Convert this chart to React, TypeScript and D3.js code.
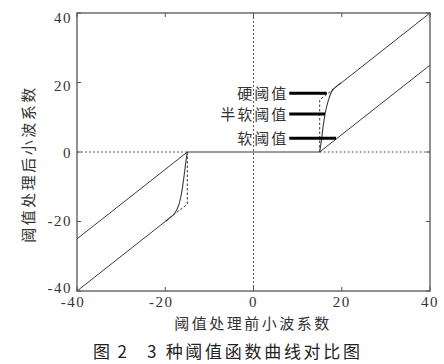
import React from "react";
import * as d3 from "d3";

const xTicks = [-40, -20, 0, 20, 40];
const yTicks = [-40, -20, 0, 20, 40];
const tickLabels = ["-40", "-20", "0", "20", "40"];

// threshold function pieces (data units)
const zeroSegment: [number, number][] = [[-15, 0], [15, 0]];
const identityRight: [number, number][] = [[20, 20], [40, 40]];
const identityLeft: [number, number][] = [[-40, -40], [-20, -20]];
const hardJumpRight: [number, number][] = [[15, 0], [15, 15], [20, 20]];
const hardJumpLeft: [number, number][] = [[-15, 0], [-15, -15], [-20, -20]];
const softRight: [number, number][] = [[15, 0], [40, 25]];
const softLeft: [number, number][] = [[-40, -25], [-15, 0]];
const semiRight: [number, number][] = [
  [15, 0], [15.4, 3.5], [15.8, 7.5], [16.3, 11.5], [17, 15], [17.8, 17.6], [18.8, 18.9], [20, 20],
];
const semiLeft: [number, number][] = [
  [-15, 0], [-15.4, -3.5], [-15.8, -7.5], [-16.3, -11.8], [-17, -15.5], [-17.9, -17.7], [-18.9, -18.9], [-20, -20],
];

const labelNames = ["硬阈值", "半软阈值", "软阈值"];
const labelY = [16.9, 10.9, 3.95];
const labelEndX = [16.6, 16.2, 18.7];
const labelStartX = 8.1;

const W = 444;
const H = 364;

export default function App() {
  const x = d3.scaleLinear().domain([-40, 40]).range([77, 430]);
  const y = d3.scaleLinear().domain([-40, 40]).range([291, 13]);
  const line = d3
    .line<[number, number]>()
    .x((d) => x(d[0]))
    .y((d) => y(d[1]));
  const curve = d3
    .line<[number, number]>()
    .x((d) => x(d[0]))
    .y((d) => y(d[1]))
    .curve(d3.curveCatmullRom.alpha(0.5));

  const serif = "'Liberation Serif', 'DejaVu Serif', serif";
  const cjk = "'Noto Sans CJK SC', sans-serif";
  const axisColor = "#555";
  const lineColor = "#3a3a3a";
  const [x0, x1] = x.range();
  const [y0, y1] = y.range();

  return (
    <svg
      width={W}
      height={H}
      viewBox={`0 0 ${W} ${H}`}
      style={{ position: "absolute", left: 0, top: 0, background: "#fff" }}
    >
      {/* dotted zero lines */}
      <line x1={x(0)} x2={x(0)} y1={y1} y2={y0} stroke="#555" strokeWidth={1} strokeDasharray="2,2" />
      <line x1={x0} x2={x(-15)} y1={y(0)} y2={y(0)} stroke="#555" strokeWidth={1} strokeDasharray="2,2" />
      <line x1={x(15)} x2={x1} y1={y(0)} y2={y(0)} stroke="#555" strokeWidth={1} strokeDasharray="2,2" />

      {/* threshold curves */}
      <path d={line(zeroSegment) || ""} fill="none" stroke={lineColor} strokeWidth={1.2} />
      <path d={line(identityRight) || ""} fill="none" stroke={lineColor} strokeWidth={1} />
      <path d={line(identityLeft) || ""} fill="none" stroke={lineColor} strokeWidth={1} />
      <path d={line(softRight) || ""} fill="none" stroke={lineColor} strokeWidth={1} />
      <path d={line(softLeft) || ""} fill="none" stroke={lineColor} strokeWidth={1} />
      <path d={line(hardJumpRight) || ""} fill="none" stroke={lineColor} strokeWidth={1} strokeDasharray="2.5,2" />
      <path d={line(hardJumpLeft) || ""} fill="none" stroke={lineColor} strokeWidth={1} strokeDasharray="2.5,2" />
      <path d={curve(semiRight) || ""} fill="none" stroke={lineColor} strokeWidth={1.1} />
      <path d={curve(semiLeft) || ""} fill="none" stroke={lineColor} strokeWidth={1.1} />

      {/* frame */}
      <rect x={x0} y={y1} width={x1 - x0} height={y0 - y1} fill="none" stroke={axisColor} strokeWidth={1.3} />

      {/* ticks */}
      {xTicks.map((t) => (
        <g key={"xt" + t}>
          <line x1={x(t)} x2={x(t)} y1={y0} y2={y0 - 4} stroke={axisColor} strokeWidth={1} />
          <line x1={x(t)} x2={x(t)} y1={y1} y2={y1 + 4} stroke={axisColor} strokeWidth={1} />
        </g>
      ))}
      {yTicks.map((t) => (
        <g key={"yt" + t}>
          <line x1={x0} x2={x0 + 4} y1={y(t)} y2={y(t)} stroke={axisColor} strokeWidth={1} />
          <line x1={x1} x2={x1 - 4} y1={y(t)} y2={y(t)} stroke={axisColor} strokeWidth={1} />
        </g>
      ))}

      {/* tick labels */}
      {xTicks.map((t, i) => (
        <text
          key={"xl" + t}
          x={x(t) + (t < 0 ? -4 : 0)}
          y={y0 + 16}
          textAnchor="middle"
          fontFamily={serif}
          fontSize={15}
          letterSpacing={1.5}
          fill="#333"
        >
          {tickLabels[i]}
        </text>
      ))}
      {yTicks.map((t, i) => (
        <text
          key={"yl" + t}
          x={x0 - 5}
          y={y(t) + 6 + t / 10}
          textAnchor="end"
          fontFamily={serif}
          fontSize={15}
          letterSpacing={1.5}
          fill="#333"
        >
          {tickLabels[i]}
        </text>
      ))}

      {/* annotations */}
      {labelNames.map((name, i) => (
        <g key={name}>
          <line
            x1={x(labelStartX)}
            x2={x(labelEndX[i])}
            y1={y(labelY[i])}
            y2={y(labelY[i])}
            stroke="#000"
            strokeWidth={3}
          />
          <text
            x={x(labelStartX) - 1}
            y={y(labelY[i]) - 1}
            textAnchor="end"
            dominantBaseline="central"
            fontFamily={cjk}
            fontSize={15}
            letterSpacing={2}
            fill="#333"
          >
            {name}
          </text>
        </g>
      ))}

      {/* axis titles */}
      <text
        x={253}
        y={329}
        textAnchor="middle"
        fontFamily={cjk}
        fontSize={15}
        letterSpacing={2.5}
        fill="#333"
      >
        阈值处理前小波系数
      </text>
      <text
        transform={`translate(34,164) rotate(-90)`}
        textAnchor="middle"
        fontFamily={cjk}
        fontSize={15}
        letterSpacing={2.5}
        fill="#333"
      >
        阈值处理后小波系数
      </text>

      {/* caption */}
      <text x={93} y={358} fontFamily={cjk} fontSize={17} fill="#222" textLength={34} lengthAdjust="spacing">
        图 2
      </text>
      <text x={147} y={358} fontFamily={cjk} fontSize={17} fill="#222" textLength={213} lengthAdjust="spacing">
        3 种阈值函数曲线对比图
      </text>
    </svg>
  );
}
